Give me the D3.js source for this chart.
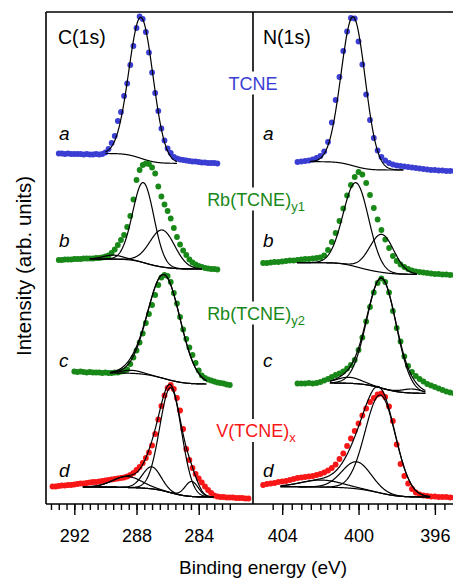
<!DOCTYPE html>
<html>
<head>
<meta charset="utf-8">
<script src="https://cdn.jsdelivr.net/npm/d3@7"></script>
<style>
body { margin: 0; background: #fff; }
svg { display: block; font-family: Arial, "Liberation Sans", sans-serif; }
</style>
</head>
<body>
<div id="chart"></div>
<script>
// samples, top to bottom
const sampleLetters = ["a", "b", "c", "d"];
const sampleNames = [["TCNE", ""], ["Rb(TCNE)", "y1"], ["Rb(TCNE)", "y2"], ["V(TCNE)", "x"]];
const sampleColors = ["#3b3ed2", "#188818", "#188818", "#f81616"];
const offsets = [330, 225, 105, 0];
const showEnvelope = [true, false, true, true];

// ---- C(1s): measured points, first energy (eV), 0.2 eV steps towards lower BE
const c1sStart = [293.0, 293.0, 292.0, 293.4];
const c1sA = [20.5, 20.5, 20, 20.5, 20, 20, 20, 20, 19.5, 20, 19.5, 19.5, 20, 19.5, 20, 21.5, 25, 31, 38, 53,
  62, 78, 90.5, 109, 128, 146, 157.5, 155, 142, 121.5, 101.5, 81, 63, 45.5, 33.5, 25.5, 21, 17, 15.5, 14.5,
  14, 13.5, 13, 12.5, 12.5, 12, 11.5, 11.5, 11, 11, 11, 10.5];
const c1sB = [19, 19, 19.5, 19.5, 19.5, 20, 20, 20, 20.5, 20.5, 20.5, 20.5, 21, 21, 21.5, 22.5, 23.5, 26, 29.5, 34,
  39, 44, 52, 63, 79.5, 99, 109, 114, 115.5, 115, 111.5, 105.5, 92.5, 82.5, 74.5, 68, 60.5, 51, 42, 34.5,
  28.5, 24, 19.5, 16.5, 14.5, 13, 12, 11, 10.5, 10, 10, 9.5];
const c1sC = [27.5, 27, 27.5, 27, 26.5, 27, 26.5, 26.5, 26.5, 26, 26.5, 26, 26, 26.5, 26.5, 27.5, 28, 29.5, 35, 41.5,
  48.5, 56.5, 65.5, 76, 85, 94, 104, 114, 121.5, 124, 123, 117, 106, 95.5, 82, 69.5, 60, 51.5, 44, 36,
  28.5, 23.5, 21, 19.5, 18.5, 17.5, 16.5, 16, 15.5, 14.5, 14];
const c1sD = [17.5, 17.5, 18, 18.5, 18.5, 19, 19, 19.5, 20, 20.5, 20.5, 21, 21.5, 22, 22, 22.5, 23, 23.5, 24, 24.5,
  25, 25.5, 26, 26.5, 27.5, 29, 31, 34, 37, 41, 46, 51.5, 58.5, 70, 84.5, 98, 108.5, 116, 119, 115,
  106, 93.5, 75, 55, 44, 36, 30, 25.5, 21.5, 17.5, 14, 11, 8.5, 7.5, 7, 7, 6.5, 6.5, 6.5, 6,
  6, 6, 5.5, 5.5];

// C(1s) fits: range [high BE, low BE], background levels [high BE side, low BE side],
// components [centre eV, height, FWHM eV]
const c1sFitRange = [[290.0, 285.4], [291.0, 283.8], [289.7, 283.5], [291.45, 283.05]];
const c1sBackground = [[20.5, 10.7], [20, 10], [26, 15], [17, 7]];
const c1sPeaks = [
  [[287.71, 141, 1.82]],
  [[289.5, 4, 1.5], [287.56, 80, 1.6], [286.34, 37, 1.9]],
  [[288.3, 3, 1.5], [286.23, 104, 2.45]],
  [[288.6, 11, 2.2], [287.02, 22, 1.4], [285.8, 105, 1.65], [284.45, 15, 1.0]]
];

// ---- N(1s)
const n1sStart = [403.2, 405.0, 403.2, 405.0];
const n1sA = [12, 12.5, 13, 13.5, 14.5, 16, 18, 22.5, 32, 51.5, 74, 97, 123, 142.5, 156, 155.5, 132.5, 109.5, 79.5, 54,
  36, 23.5, 17, 13.5, 11, 9.5, 8.5, 8, 7.5, 7, 6.5, 6, 5.5, 5, 4.5, 4, 4, 3.5, 3.5, 3, 3, 3];
const n1sB = [16, 16, 16.5, 17, 17, 17.5, 18, 18.5, 18.5, 19, 19.5, 20, 20, 20.5, 21, 21.5, 23.5, 29, 37, 46,
  58, 70.5, 83.5, 94, 102, 107, 104.5, 96, 84, 71, 59.5, 49, 39.5, 31, 23, 18, 14.5, 12, 10, 8.5,
  7.5, 7, 6.5, 6, 5.5, 5, 5, 4.5, 4.5, 4, 4];
const n1sC = [15.5, 15.5, 15.5, 16, 15.5, 16, 17, 18.5, 20, 22, 24, 25.5, 27.5, 30.5, 34, 39, 49, 61.5, 77.5, 92,
  106.5, 116, 120.5, 117, 106.5, 88, 71, 57.5, 42.5, 33, 27, 23, 20, 17.5, 15, 13.5, 12, 10.5, 9, 7.5,
  6.5, 5.5];
const n1sD = [19, 20, 20.5, 21, 22, 22.5, 23, 24, 25, 26, 26.5, 27, 27.5, 28, 29, 30, 31.5, 33.5, 36, 39.5,
  45, 50.5, 58, 65.5, 73, 80.5, 88.5, 95.5, 102, 106, 109.5, 110.5, 107, 97.5, 83, 59.5, 40, 28, 20.5, 15,
  11.5, 9.5, 8.5, 8, 7.5, 7.5, 7, 7, 7, 6.5, 6.5];

const n1sFitRange = [[402.54, 397.65], [403.24, 396.95], [401.5, 396.5], [404.1, 396.25]];
const n1sBackground = [[12.3, 4], [16.3, 4.7], [16, 5.7], [17.3, 7]];
const n1sPeaks = [
  [[400.28, 149, 1.48]],
  [[400.13, 84, 1.57], [398.78, 38, 1.5]],
  [[400.5, 6, 1.5], [398.79, 110, 1.8], [397.2, 4, 1.2]],
  [[401.94, 7, 2.5], [400.1, 27, 1.8], [398.85, 98, 1.87]]
];

// axes
const c1sMajor = [292, 288, 284];
const c1sMinor = d3.range(293.5, 281.9, -0.5);
const n1sMajor = [404, 400, 396];
const n1sMinor = d3.range(404.5, 394.9, -0.5);

const width = 453, height = 579;
const plotTop = 12, plotBottom = 504, plotLeft = 46, split = 253;

const svg = d3.select("#chart").append("svg")
  .attr("width", width)
  .attr("height", height);

const y = d3.scaleLinear().domain([0, 492]).range([plotBottom, plotTop]);

const panels = [
  {
    id: "c1s", title: "C(1s)",
    x: d3.scaleLinear().domain([293.82, 280.51]).range([plotLeft, split]),
    starts: c1sStart, data: [c1sA, c1sB, c1sC, c1sD],
    fitRange: c1sFitRange, background: c1sBackground, peaks: c1sPeaks,
    major: c1sMajor, minor: c1sMinor, titleX: 58, letterX: 59
  },
  {
    id: "n1s", title: "N(1s)",
    x: d3.scaleLinear().domain([405.53, 395.05]).range([split, width]),
    starts: n1sStart, data: [n1sA, n1sB, n1sC, n1sD],
    fitRange: n1sFitRange, background: n1sBackground, peaks: n1sPeaks,
    major: n1sMajor, minor: n1sMinor, titleX: 263, letterX: 263
  }
];

function gauss(E, p) {
  const s = p[2] / 2.3548;
  return p[1] * Math.exp(-((E - p[0]) ** 2) / (2 * s * s));
}

// Shirley-type background under the fitted components
function fitCurves(range, levels, peaks) {
  const grid = d3.range(range[1], range[0] + 1e-9, 0.02);
  const sum = grid.map(E => d3.sum(peaks, p => gauss(E, p)));
  let acc = 0;
  const cum = sum.map(v => (acc += v));
  const bg = grid.map((E, i) => levels[1] + (levels[0] - levels[1]) * cum[i] / acc);
  return {
    background: grid.map((E, i) => [E, bg[i]]),
    components: peaks.map(p => grid.map((E, i) => [E, bg[i] + gauss(E, p)])),
    envelope: grid.map((E, i) => [E, bg[i] + sum[i]])
  };
}

panels.forEach(panel => {
  const x = panel.x;
  const [x0, x1] = x.range();

  svg.append("clipPath").attr("id", "clip-" + panel.id)
    .append("rect").attr("x", x0).attr("y", plotTop).attr("width", x1 - x0).attr("height", plotBottom - plotTop);

  const g = svg.append("g").attr("clip-path", `url(#clip-${panel.id})`);

  panel.data.forEach((values, s) => {
    const pts = values.map((v, i) => [panel.starts[s] - i * 0.2, v + offsets[s]]);
    g.append("g")
      .selectAll("circle")
      .data(pts).enter()
      .append("circle")
      .attr("cx", d => x(d[0]))
      .attr("cy", d => y(d[1]))
      .attr("r", 2.9)
      .attr("fill", sampleColors[s]);

    const fit = fitCurves(panel.fitRange[s], panel.background[s], panel.peaks[s]);
    const line = d3.line()
      .x(d => x(d[0]))
      .y(d => y(d[1] + offsets[s]));
    const curves = [fit.background].concat(panel.peaks[s].length > 1 || !showEnvelope[s] ? fit.components : []);
    if (showEnvelope[s]) curves.push(fit.envelope);
    g.append("g")
      .selectAll("path")
      .data(curves).enter()
      .append("path")
      .attr("d", line)
      .attr("fill", "none")
      .attr("stroke", "#000")
      .attr("stroke-width", 1.2);
  });

  // ticks
  svg.append("g")
    .attr("transform", `translate(0,${plotBottom})`)
    .call(d3.axisBottom(x).tickValues(panel.minor).tickSize(6).tickFormat(""))
    .call(a => a.select(".domain").remove())
    .call(a => a.selectAll("line").attr("stroke-width", 1.4));
  svg.append("g")
    .attr("transform", `translate(0,${plotBottom})`)
    .call(d3.axisBottom(x).tickValues(panel.major).tickSize(11).tickPadding(14).tickFormat(d3.format("d")))
    .call(a => a.select(".domain").remove())
    .call(a => a.selectAll("line").attr("stroke-width", 1.4))
    .call(a => a.selectAll("text").attr("fill", "#000").style("font-size", "18px").style("font-family", "Arial, 'Liberation Sans', sans-serif"));

  svg.append("text")
    .attr("x", panel.titleX)
    .attr("y", 44)
    .style("font-size", "19.5px")
    .text(panel.title);

  const letterY = [140, 246.5, 367, 476.5];
  sampleLetters.forEach((l, s) => {
    svg.append("text")
      .attr("x", panel.letterX)
      .attr("y", letterY[s])
      .style("font-size", "19px")
      .style("font-style", "italic")
      .text(l);
  });
});

// frame
const frame = svg.append("g").attr("stroke", "#000").attr("stroke-width", 1.6);
frame.append("line").attr("x1", plotLeft).attr("x2", width).attr("y1", plotTop).attr("y2", plotTop);
frame.append("line").attr("x1", plotLeft).attr("x2", width).attr("y1", plotBottom).attr("y2", plotBottom);
frame.append("line").attr("x1", plotLeft).attr("x2", plotLeft).attr("y1", plotTop).attr("y2", plotBottom);
frame.append("line").attr("x1", split).attr("x2", split).attr("y1", plotTop).attr("y2", plotBottom);

// sample names over the divider, on a white patch that breaks the line
const nameY = [89.5, 205.5, 319.5, 437];
const names = svg.append("g");
sampleNames.forEach((n, s) => {
  const t = names.append("text")
    .attr("x", split)
    .attr("y", nameY[s])
    .attr("fill", sampleColors[s])
    .style("font-size", "18px");
  t.append("tspan").text(n[0]);
  if (n[1]) t.append("tspan").attr("dy", 5).style("font-size", "13px").text(n[1]);
  const w = t.node().getComputedTextLength();
  t.attr("x", split - w / 2 + (n[1] ? 3 : 0));
  const b = t.select("tspan").node().getBBox();
  names.insert("rect", () => t.node())
    .attr("x", b.x - 1)
    .attr("y", b.y - 2)
    .attr("width", b.width + 2)
    .attr("height", b.height + 3)
    .attr("fill", "#fff");
});

// axis titles
svg.append("text")
  .attr("x", 263)
  .attr("y", 574)
  .attr("text-anchor", "middle")
  .style("font-size", "19px")
  .text("Binding energy (eV)");

svg.append("text")
  .attr("transform", "translate(31,266) rotate(-90)")
  .attr("text-anchor", "middle")
  .style("font-size", "20.5px")
  .text("Intensity (arb. units)");
</script>
</body>
</html>
